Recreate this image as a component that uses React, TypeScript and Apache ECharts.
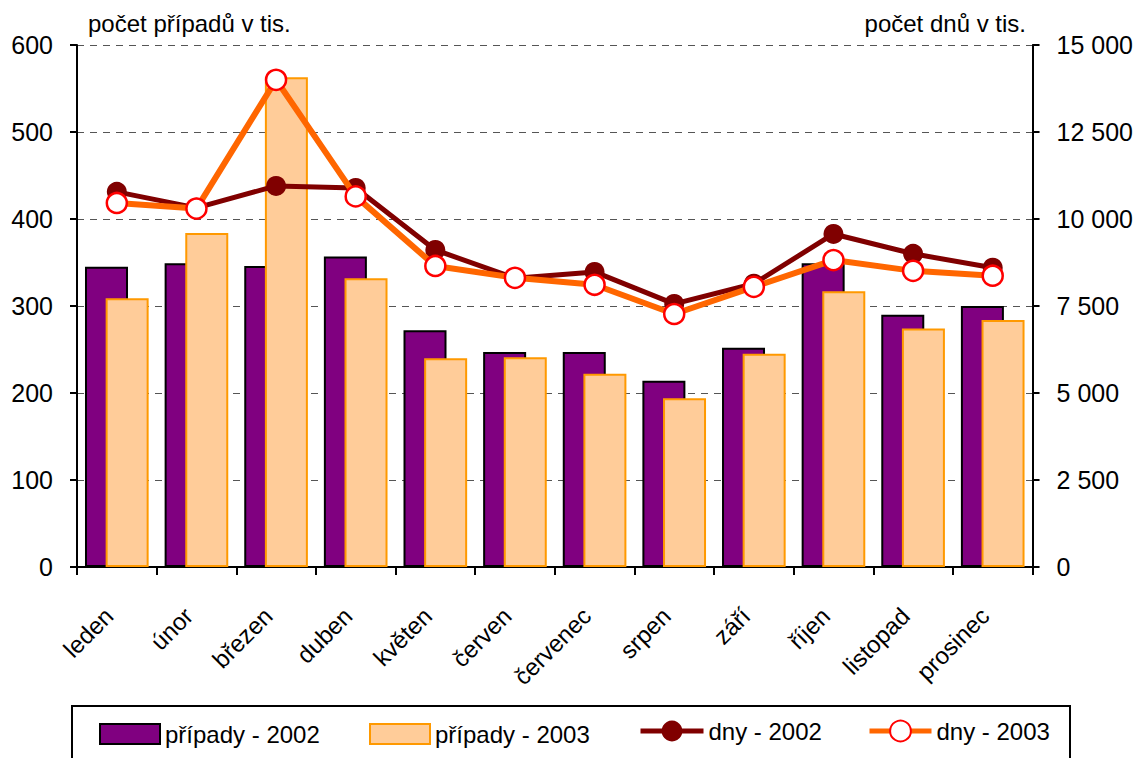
import React, { useEffect, useRef } from "react";
import * as echarts from "echarts";

const months = ["leden", "únor", "březen", "duben", "květen", "červen", "červenec", "srpen", "září", "říjen", "listopad", "prosinec"];
const pripady2002 = [345, 349, 346, 357, 272, 247, 247, 214, 252, 349, 290, 300];
const pripady2003 = [309, 384, 563, 332, 240, 241, 222, 194, 245, 317, 274, 284];
const dny2002 = [10780, 10320, 10950, 10890, 9110, 8300, 8480, 7560, 8140, 9570, 9000, 8600];
const dny2003 = [10460, 10300, 14000, 10650, 8650, 8310, 8110, 7270, 8050, 8820, 8510, 8370];

const leftTitle = "počet případů v tis.";
const rightTitle = "počet dnů v tis.";

const FONT = "'Liberation Sans', Arial, sans-serif";

export default function App() {
  const ref = useRef<HTMLDivElement>(null);
  useEffect(() => {
    document.body.style.margin = "0";
    const chart = echarts.init(ref.current!, null, { renderer: "svg" });
    const fmt = (v: number) => {
      const s = String(Math.round(v));
      return s.replace(/\B(?=(\d{3})+(?!\d))/g, " ");
    };
    const legendBase = {
      top: 722,
      padding: 0,
      itemWidth: 60,
      itemHeight: 20,
      itemGap: 5,
      textStyle: { fontFamily: FONT, fontSize: 24, color: "#000" },
      selectedMode: false,
    };
    chart.setOption({
      animation: false,
      backgroundColor: "#fff",
      textStyle: { fontFamily: FONT },
      grid: { left: 77, right: 98, top: 45, bottom: 191 },
      xAxis: [
        {
          type: "category",
          data: months,
          boundaryGap: true,
          axisLine: { lineStyle: { color: "#000", width: 2 } },
          axisTick: { show: true, length: 8, lineStyle: { color: "#000", width: 2 } },
          axisLabel: {
            interval: 0,
            rotate: 45,
            margin: 37,
            padding: [0, 11, 0, 0],
            fontFamily: FONT,
            fontSize: 24,
            color: "#000",
          },
        },
        {
          type: "category",
          data: months,
          position: "top",
          axisLine: { lineStyle: { color: "#000", width: 2 } },
          axisTick: { show: false },
          axisLabel: { show: false },
        },
      ],
      yAxis: [
        {
          type: "value",
          min: 0,
          max: 600,
          interval: 100,
          axisLine: { show: true, lineStyle: { color: "#000", width: 2 } },
          axisTick: { show: true, length: 7, lineStyle: { color: "#000", width: 2 } },
          axisLabel: { margin: 24, fontFamily: FONT, fontSize: 25, color: "#000" },
          splitLine: { show: true, lineStyle: { color: "#555", width: 1, type: [7, 6] } },
        },
        {
          type: "value",
          min: 0,
          max: 15000,
          interval: 2500,
          position: "right",
          axisLine: { show: true, lineStyle: { color: "#000", width: 2 } },
          axisTick: { show: true, length: 7, lineStyle: { color: "#000", width: 2 } },
          axisLabel: { margin: 24, fontFamily: FONT, fontSize: 25, color: "#000", formatter: fmt },
          splitLine: { show: false },
        },
      ],
      legend: [
        { ...legendBase, left: 99, icon: "rect", data: ["případy - 2002"] },
        { ...legendBase, left: 369, icon: "rect", data: ["případy - 2003"] },
        {
          ...legendBase,
          left: 638,
          top: 719,
          itemWidth: 63,
          itemHeight: 26,
          data: [{ name: "dny - 2002", lineStyle: { width: 5, color: "#800000" } }],
        },
        {
          ...legendBase,
          left: 867,
          top: 719,
          itemWidth: 62,
          itemHeight: 26,
          data: [{ name: "dny - 2003", lineStyle: { width: 5, color: "#FF6600" } }],
        },
      ],
      graphic: [
        {
          type: "rect",
          shape: { x: 72, y: 706, width: 998, height: 70 },
          style: { fill: "none", stroke: "#000", lineWidth: 2 },
          silent: true,
        },
        {
          type: "text",
          left: 88,
          top: 11,
          style: { text: leftTitle, fontFamily: FONT, fontSize: 24, fill: "#000" },
        },
        {
          type: "text",
          right: 110,
          top: 11,
          style: { text: rightTitle, fontFamily: FONT, fontSize: 24, fill: "#000" },
        },
      ],
      series: [
        {
          name: "případy - 2002",
          type: "bar",
          data: pripady2002,
          barWidth: "54%",
          barGap: "-52%",
          itemStyle: { color: "#800080", borderColor: "#000", borderWidth: 2 },
        },
        {
          name: "případy - 2003",
          type: "bar",
          data: pripady2003,
          barWidth: "54%",
          barGap: "-52%",
          itemStyle: { color: "#FFCC99", borderColor: "#FF9900", borderWidth: 2 },
        },
        {
          name: "dny - 2002",
          type: "line",
          yAxisIndex: 1,
          data: dny2002,
          symbol: "circle",
          symbolSize: 20,
          lineStyle: { color: "#800000", width: 5 },
          itemStyle: { color: "#800000", borderColor: "#800000", borderWidth: 0 },
          z: 3,
        },
        {
          name: "dny - 2003",
          type: "line",
          yAxisIndex: 1,
          data: dny2003,
          symbol: "circle",
          symbolSize: 20,
          lineStyle: { color: "#FF6600", width: 6 },
          itemStyle: { color: "#FFFFFF", borderColor: "#FF0000", borderWidth: 2.5 },
          z: 4,
        },
      ],
    });
    return () => chart.dispose();
  }, []);
  return <div ref={ref} style={{ width: 1136, height: 758 }} />;
}
